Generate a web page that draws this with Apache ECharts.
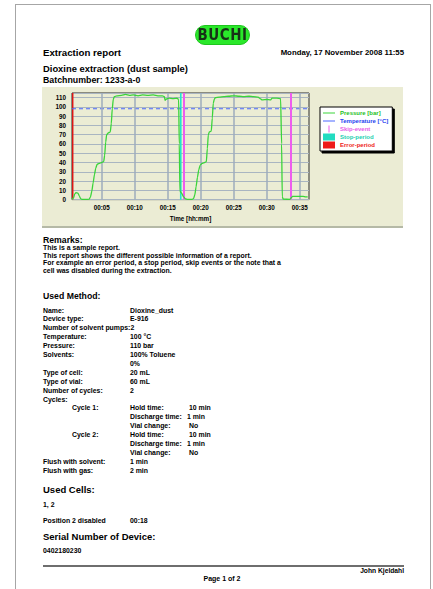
<!DOCTYPE html>
<html><head><meta charset="utf-8">
<script src="https://cdn.jsdelivr.net/npm/echarts@6/dist/echarts.min.js"></script>
<style>
html,body{margin:0;padding:0;background:#fff;}
body{width:433px;height:589px;position:relative;overflow:hidden;font-family:"Liberation Sans",Arial,sans-serif;font-weight:bold;color:#000;}
.t{position:absolute;white-space:nowrap;line-height:1;}
#page{position:absolute;left:15px;top:4px;width:416px;height:640px;border:1px solid #a6a6a6;box-sizing:border-box;}
#logo{position:absolute;left:195px;top:25px;width:55px;height:20px;border-radius:10px;background:#2ae82a;border:1px solid #1fc51f;box-sizing:border-box;text-align:center;}
#logo span{display:inline-block;font-family:"Liberation Sans Narrow","DejaVu Sans Condensed","Liberation Sans",sans-serif;font-size:15px;line-height:18px;color:#173217;letter-spacing:0.5px;transform:scaleY(1.1);}
#panel{position:absolute;left:42px;top:87px;width:361px;height:141px;background:#ebecd4;}
#panelLine{position:absolute;left:42px;top:226px;width:361px;height:2px;background:#b5b9a6;}
#chart{position:absolute;left:0;top:0;width:361px;height:139px;}
#rule{position:absolute;left:43px;top:565px;width:361px;height:1.5px;background:#6e6e6e;}
</style></head>
<body>
<div id="page"></div>
<div id="logo"><span>BUCHI</span></div>
<div id="panel"><div id="chart"></div></div>
<div id="panelLine"></div>
<div id="rule"></div>
<div id="texts"></div>
<script>
// ---- chart data ----
const timeTicks = [5, 10, 15, 20, 25, 30, 35];
const tickLabels = ['00:05', '00:10', '00:15', '00:20', '00:25', '00:30', '00:35'];
const yTicks = [0, 10, 20, 30, 40, 50, 60, 70, 80, 90, 100, 110];

const pressureTime = [0.5, 0.75, 0.9, 1.1, 1.4, 1.6, 1.8, 2.0, 2.6, 3.1, 3.3, 3.5, 3.7, 3.9, 4.1, 4.3, 4.6, 5.0, 5.3, 5.45, 5.6, 5.75, 6.0, 6.3, 6.45, 6.6, 6.75, 6.9, 7.3, 8.0, 8.6, 9.2, 9.8, 10.5, 11.2, 12.0, 12.8, 13.5, 14.2, 14.5, 14.6, 14.75, 15.2, 15.8, 16.4, 16.65, 16.75, 16.85, 17.1, 17.4, 17.7, 18.0, 18.7, 18.9, 19.1, 19.3, 19.5, 19.7, 19.9, 20.2, 20.6, 20.85, 21.0, 21.15, 21.3, 21.6, 21.75, 21.9, 22.05, 22.2, 22.8, 23.5, 24.2, 25.0, 25.8, 26.5, 27.3, 28.0, 28.7, 29.0, 29.3, 30.0, 30.6, 30.8, 31.5, 32.1, 32.25, 32.35, 32.5, 33.5, 33.7, 33.9, 34.5, 35.5, 35.9, 36.2];
const pressureValue = [0.3, 2, 6, 7.5, 7, 4, 1, 0.3, 0.2, 0.5, 3, 9, 18, 27, 34, 38, 39, 40, 41, 48, 62, 70, 72, 73, 82, 98, 108, 111, 112, 112.5, 113.5, 112.5, 113, 112, 113, 112.5, 113, 112, 112, 111, 107, 108.5, 109.5, 109, 109.5, 108, 60, 9, 7, 3, 0.8, 0.2, 0.3, 1, 5, 14, 24, 32, 37, 39, 40, 41, 55, 70, 73, 74, 88, 104, 108, 110, 110.5, 111, 111.5, 112, 111.5, 111, 111.5, 111, 110.5, 109, 107.5, 108, 107.5, 109.5, 109.5, 109, 60, 3, 0.5, 0.3, 2, 3.5, 3.5, 3.5, 3, 3];
const temperatureTime = [0.5, 5, 10, 15, 20, 25, 30, 36.4];
const temperatureValue = [98, 98, 98, 98, 98, 98, 98, 98];
const skipEvents = [17.4, 33.6];
const stopPeriods = [[16.85, 17.1]];
const errorPeriods = [[0.5, 0.72]];

// ---- report text ----
const B = 6.9, S = 8.9, N0 = 311;
function row(i) { return N0 + i * S; }
const textLines = [
  ['Extraction report', 43, 53, 9.7],
  ['Monday, 17 November 2008 11:55', 404, 53, 7.8, 'r'],
  ['Dioxine extraction (dust sample)', 43, 69, 9.4],
  ['Batchnumber: 1233-a-0', 43, 80, 8.8],
  ['Remarks:', 43, 240, 8.7],
  ['This is a sample report.', 43, 248.5, B],
  ['This report shows the different possible information of a report.', 43, 256, B],
  ['For example an error period, a stop period, skip events or the note that a', 43, 263.5, B],
  ['cell was disabled during the extraction.', 43, 271, B],
  ['Used Method:', 43, 296, 8.7],
  ['Name:', 43, row(0), B], ['Dioxine_dust', 130, row(0), B],
  ['Device type:', 43, row(1), B], ['E-916', 130, row(1), B],
  ['Number of solvent pumps:', 43, row(2), B], ['2', 130.5, row(2), B],
  ['Temperature:', 43, row(3), B], ['100 \u00B0C', 130, row(3), B],
  ['Pressure:', 43, row(4), B], ['110 bar', 130, row(4), B],
  ['Solvents:', 43, row(5), B], ['100% Toluene', 130, row(5), B],
  ['0%', 130, row(6), B],
  ['Type of cell:', 43, row(7), B], ['20 mL', 130, row(7), B],
  ['Type of vial:', 43, row(8), B], ['60 mL', 130, row(8), B],
  ['Number of cycles:', 43, row(9), B], ['2', 130, row(9), B],
  ['Cycles:', 43, row(10), B],
  ['Cycle 1:', 72, row(11), B], ['Hold time:', 130, row(11), B], ['10 min', 189, row(11), B],
  ['Discharge time:', 130, row(12), B], ['1 min', 187, row(12), B],
  ['Vial change:', 130, row(13), B], ['No', 189, row(13), B],
  ['Cycle 2:', 72, row(14), B], ['Hold time:', 130, row(14), B], ['10 min', 189, row(14), B],
  ['Discharge time:', 130, row(15), B], ['1 min', 187, row(15), B],
  ['Vial change:', 130, row(16), B], ['No', 189, row(16), B],
  ['Flush with solvent:', 43, row(17), B], ['1 min', 130, row(17), B],
  ['Flush with gas:', 43, row(18), B], ['2 min', 130, row(18), B],
  ['Used Cells:', 43, 490, 9.5],
  ['1, 2', 43, 505, B],
  ['Position 2 disabled', 43, 521, B], ['00:18', 130, 521, B],
  ['Serial Number of Device:', 43, 537, 9.5],
  ['0402180230', 43, 551, B],
  ['John Kjeldahl', 404, 571, 6.7, 'r'],
  ['Page 1 of 2', 222, 578, 7, 'c']
];
const host = document.getElementById('texts');
textLines.forEach(function (l) {
  const d = document.createElement('div');
  d.className = 't';
  d.textContent = l[0];
  d.style.fontSize = l[3] + 'px';
  d.style.top = (l[2] - l[3] / 2) + 'px';
  if (l[4] === 'r') { d.style.right = (433 - l[1]) + 'px'; }
  else if (l[4] === 'c') { d.style.left = l[1] + 'px'; d.style.transform = 'translateX(-50%)'; }
  else { d.style.left = l[1] + 'px'; }
  host.appendChild(d);
});

// ---- chart ----
const pressureData = pressureTime.map(function (t, i) { return [t, pressureValue[i]]; });
const temperatureData = temperatureTime.map(function (t, i) { return [t, temperatureValue[i]]; });
const chart = echarts.init(document.getElementById('chart'), null, { renderer: 'svg', width: 361, height: 139 });
const lblFont = { fontFamily: 'Liberation Sans', fontWeight: 'bold', color: '#000' };
chart.setOption({
  animation: false,
  textStyle: { fontFamily: 'Liberation Sans', fontWeight: 'bold' },
  grid: { left: 30, top: 6, width: 237, height: 110, show: true, borderColor: '#2a2a2a', borderWidth: 1, backgroundColor: 'transparent' },
  xAxis: {
    type: 'value', min: 0.5, max: 36.4,
    name: 'Time [hh:mm]', nameLocation: 'middle', nameGap: 12.5,
    nameTextStyle: Object.assign({ fontSize: 6.3 }, lblFont),
    axisLine: { show: false }, axisTick: { show: false }, splitLine: { show: false },
    axisLabel: Object.assign({
      customValues: timeTicks, fontSize: 6.3, margin: 4.5,
      formatter: function (v) { const i = timeTicks.indexOf(v); return i >= 0 ? tickLabels[i] : ''; }
    }, lblFont)
  },
  yAxis: {
    type: 'value', min: 0, max: 115, interval: 10,
    axisLine: { show: false }, axisTick: { show: false },
    splitLine: { lineStyle: { color: '#a9b5c1', width: 1 } },
    axisLabel: Object.assign({
      fontSize: 6.3, margin: 6,
      formatter: function (v) { return yTicks.indexOf(v) >= 0 ? String(v) : ''; }
    }, lblFont)
  },
  legend: {
    orient: 'vertical', left: 278, top: 20, selectedMode: false,
    backgroundColor: '#fff', borderColor: '#000', borderWidth: 1,
    shadowColor: '#000', shadowBlur: 0, shadowOffsetX: 2, shadowOffsetY: 2,
    padding: [2, 4, 2, 3], itemGap: 0, itemWidth: 12, itemHeight: 7,
    itemStyle: { borderWidth: 0 },
    textStyle: { fontSize: 6, fontWeight: 'bold', fontFamily: 'Liberation Sans', lineHeight: 8 },
    data: [
      { name: 'Pressure [bar]', icon: 'path://M0,0H24V2H0Z', textStyle: { color: '#1fbf1f' } },
      { name: 'Temperature [\u00B0C]', icon: 'path://M0,0H24V2H0Z', textStyle: { color: '#2844f0' } },
      { name: 'Skip-event', icon: 'path://M0,0H2V14H0Z', textStyle: { color: '#e860e8' } },
      { name: 'Stop-period', icon: 'rect', textStyle: { color: '#1ccfb0' } },
      { name: 'Error-period', icon: 'rect', textStyle: { color: '#ee1a1a' } }
    ]
  },
  series: [
    {
      name: 'vgrid', type: 'line', data: [], z: 1, silent: true,
      markLine: {
        silent: true, symbol: 'none', label: { show: false },
        lineStyle: { color: '#9eadbc', width: 1.5, type: 'solid' },
        data: timeTicks.map(function (t) { return { xAxis: t }; })
      }
    },
    {
      name: 'Error-period', type: 'line', data: [], z: 2, color: '#ee1a1a',
      markArea: { silent: true, itemStyle: { color: '#dd1414' }, data: errorPeriods.map(function (p) { return [{ xAxis: p[0] }, { xAxis: p[1] }]; }) }
    },
    {
      name: 'Stop-period', type: 'line', data: [], z: 2, color: '#22dcc0',
      markArea: { silent: true, itemStyle: { color: '#22e6cc' }, data: stopPeriods.map(function (p) { return [{ xAxis: p[0] }, { xAxis: p[1] }]; }) }
    },
    {
      name: 'Temperature [\u00B0C]', type: 'line', data: temperatureData, z: 3,
      symbol: 'none', color: '#4a66ff', lineStyle: { width: 1, type: [4, 3], color: '#4a66ff' }
    },
    {
      name: 'Skip-event', type: 'line', data: [], z: 4, color: '#ee5cee',
      markLine: {
        silent: true, symbol: 'none', label: { show: false },
        lineStyle: { color: '#ee5cee', width: 2, type: 'solid' },
        data: skipEvents.map(function (t) { return { xAxis: t }; })
      }
    },
    {
      name: 'Pressure [bar]', type: 'line', data: pressureData, z: 5,
      symbol: 'none', smooth: 0.2, smoothMonotone: 'x',
      color: '#3ad43a', lineStyle: { width: 1.3, color: '#3ad43a' }
    }
  ]
});
</script>
</body></html>
